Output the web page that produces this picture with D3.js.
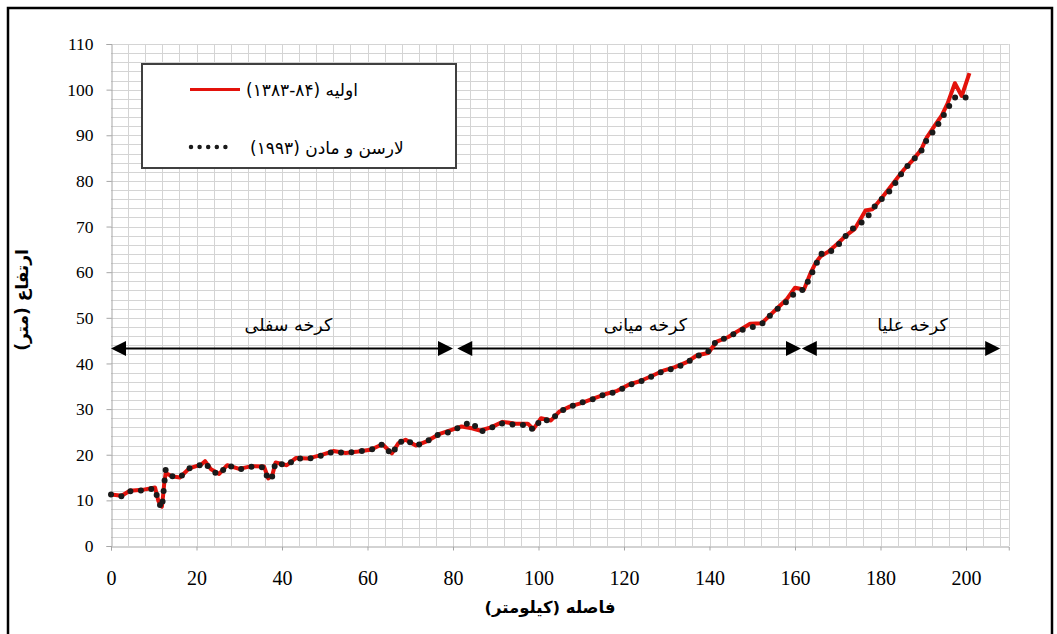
<!DOCTYPE html>
<html>
<head>
<meta charset="utf-8">
<script src="https://cdn.jsdelivr.net/npm/d3@7"></script>
<style>
  body { margin: 0; background: #fff; }
  svg { display: block; }
  .fa { font-family: "DejaVu Sans", "Noto Sans", sans-serif; direction: rtl; }
</style>
</head>
<body>
<svg width="1057" height="634"></svg>
<script>
// distance along the river (km)
const km = [0, 2.5, 4.4, 7.4, 10.3, 11.1, 11.9, 12.2, 12.5, 12.8, 14.2, 16.1, 18.3, 21.2, 22, 23.4, 25.3, 27.2,
  30, 32.9, 35.8, 36.8, 37.7, 38.5, 41.1, 43.3, 46.2, 49.1, 52, 54.9, 57.8, 60.7, 63.5, 65.7, 67.2, 68.9,
  71.3, 74, 76.7, 79.5, 82, 84.4, 86.3, 88.9, 91.6, 94.7, 97.5, 98.8, 100.6, 102.9, 104.8, 107.4, 110,
  112.8, 115.7, 118.4, 121.2, 123.7, 126.6, 129.4, 131.9, 134.7, 137.1, 139.7, 141.7, 144.4, 147, 149.5,
  152.2, 154.3, 156.1, 158, 160, 162.1, 163.5, 164.8, 166, 167.8, 170, 171.9, 174, 176.5, 178.1, 179.9,
  182, 183.8, 185.5, 187.5, 189.5, 190.8, 192.6, 194.3, 195.7, 197.4, 199, 200.8];

// initial profile (1383-84)
const initialElev = [11.3, 11.0, 12.1, 12.3, 12.8, 9.8, 8.6, 11.2, 14.2, 16.0, 15.3, 15.0, 17.0, 17.9, 18.6, 16.8, 15.8, 17.7,
  16.9, 17.5, 17.4, 14.8, 15.4, 18.3, 17.7, 19.3, 19.2, 19.9, 20.8, 20.4, 20.7, 21.1, 22.3, 20.3, 22.5, 23.3,
  22.0, 23.0, 24.5, 25.4, 26.2, 25.8, 25.3, 26.0, 27.2, 26.8, 26.8, 25.6, 28.0, 27.5, 29.4, 30.6, 31.3,
  32.3, 33.3, 34.0, 35.4, 36.1, 37.3, 38.5, 39.2, 40.3, 41.8, 42.3, 44.8, 45.8, 47.3, 48.7,
  48.8, 50.7, 52.3, 54.0, 56.6, 56.2, 59.5, 62.0, 63.5, 64.5, 66.3, 68.0, 69.5, 73.5, 73.8, 75.8,
  78.3, 80.5, 82.5, 84.5, 86.8, 89.5, 92.0, 94.3, 97.0, 101.4, 98.6, 103.6];

// Larsen & Madsen (1993)
const larsenElev = [11.3, 10.9, 12.0, 12.2, 12.6, 9.6, 8.3, 11.0, 14.0, 16.8, 15.3, 15.0, 17.0, 17.8, 18.3, 16.6, 15.6, 17.7,
  16.8, 17.4, 17.2, 14.4, 15.2, 18.3, 17.6, 19.2, 19.1, 19.8, 20.7, 20.4, 20.7, 21.0, 22.3, 20.0, 22.5, 23.4,
  21.9, 23.0, 24.5, 25.0, 26.3, 27.2, 25.0, 25.9, 26.9, 26.5, 26.5, 25.4, 27.8, 27.4, 29.4, 30.5, 31.4,
  32.2, 33.3, 33.8, 35.3, 36.0, 37.2, 38.4, 38.9, 40.2, 41.6, 42.6, 45.0, 45.7, 47.2, 47.8,
  48.6, 50.6, 52.1, 53.5, 55.5, 56.2, 58.9, 61.4, 64.0, 64.1, 65.8, 68.0, 70.0, 71.4, 73.8, 75.7,
  77.6, 80.0, 82.5, 84.4, 86.5, 89.0, 91.1, 93.6, 95.9, 98.3, null, 98.3];

const xTicks = [0, 20, 40, 60, 80, 100, 120, 140, 160, 180, 200];
const yTicks = [0, 10, 20, 30, 40, 50, 60, 70, 80, 90, 100, 110];

const seriesNames = ["اولیه (۸۴-۱۳۸۳)", "لارسن و مادن (۱۹۹۳)"];
const reachNames = ["کرخه سفلی", "کرخه میانی", "کرخه علیا"];
const reachFrom = [0, 81, 161.6];
const reachTo = [80, 161.4, 208];
const reachLabelKm = [41.5, 125, 187.5];

const svg = d3.select("svg");
const x = d3.scaleLinear().domain([0, 210]).range([111, 1008.75]);
const y = d3.scaleLinear().domain([0, 110]).range([546, 44]);

// outer frame
svg.append("rect")
  .attr("x", 8).attr("y", 8)
  .attr("width", 1044).attr("height", 640)
  .attr("fill", "none").attr("stroke", "#000").attr("stroke-width", 2.5);

// grid
const grid = svg.append("g").attr("stroke", "#d4d4d4").attr("stroke-width", 1);
grid.selectAll("line.h")
  .data(d3.range(2, 111, 2))
  .join("line")
  .attr("x1", x(0)).attr("x2", x(210))
  .attr("y1", d => Math.round(y(d)) + 0.5).attr("y2", d => Math.round(y(d)) + 0.5);
grid.selectAll("line.v")
  .data(d3.range(4, 209, 4).concat([210]))
  .join("line")
  .attr("y1", y(0)).attr("y2", y(110))
  .attr("x1", d => Math.round(x(d)) + 0.5).attr("x2", d => Math.round(x(d)) + 0.5);

// axes
const yAxis = svg.append("g")
  .attr("transform", `translate(${Math.round(x(0)) + 0.5},0)`)
  .call(d3.axisLeft(y).tickValues(yTicks).tickSize(5).tickPadding(13));
const xAxis = svg.append("g")
  .attr("transform", `translate(0,${Math.round(y(0)) + 0.5})`)
  .call(d3.axisBottom(x).tickValues(xTicks).tickSize(4).tickPadding(20));
[yAxis, xAxis].forEach(a => {
  a.selectAll("path, line").attr("stroke", "#a6a6a6");
  a.selectAll("text")
    .attr("fill", "#000")
    .style("font-family", "'Liberation Serif', 'Times New Roman', serif");
});
yAxis.selectAll("text").style("font-size", "17.5px");
xAxis.selectAll("text").style("font-size", "20px");

// reach arrows
const arrowY = y(43.3);
const arrows = svg.append("g");
reachNames.forEach((name, i) => {
  const x0 = x(reachFrom[i]), x1 = x(reachTo[i]);
  arrows.append("line")
    .attr("x1", x0 + 10).attr("x2", x1 - 10)
    .attr("y1", arrowY).attr("y2", arrowY)
    .attr("stroke", "#000").attr("stroke-width", 2);
  arrows.append("path")
    .attr("d", `M${x0},${arrowY} L${x0 + 15},${arrowY - 7.5} L${x0 + 15},${arrowY + 7.5} Z`);
  arrows.append("path")
    .attr("d", `M${x1},${arrowY} L${x1 - 15},${arrowY - 7.5} L${x1 - 15},${arrowY + 7.5} Z`);
  arrows.append("text")
    .attr("class", "fa")
    .attr("x", x(reachLabelKm[i]))
    .attr("y", arrowY - 17)
    .attr("text-anchor", "middle")
    .style("font-size", "17.5px")
    .text(name);
});

// series
const redPts = km.map((k, i) => [k, initialElev[i]]);
const dotPts = km.map((k, i) => [k, larsenElev[i]]).filter(d => d[1] != null);
const line = d3.line().x(d => x(d[0])).y(d => y(d[1]));

svg.append("path")
  .datum(redPts)
  .attr("d", line)
  .attr("fill", "none")
  .attr("stroke", "#e3120b")
  .attr("stroke-width", 4)
  .attr("stroke-linejoin", "round");

svg.append("path")
  .datum(dotPts)
  .attr("d", line)
  .attr("fill", "none")
  .attr("stroke", "#1a1a1a")
  .attr("stroke-width", 6)
  .attr("stroke-linecap", "round")
  .attr("stroke-dasharray", "0 10.5");

// legend
const lg = svg.append("g");
lg.append("rect")
  .attr("x", 142).attr("y", 64)
  .attr("width", 314).attr("height", 104)
  .attr("fill", "#fff").attr("stroke", "#404040").attr("stroke-width", 2);
lg.append("line")
  .attr("x1", 190).attr("x2", 240).attr("y1", 89.5).attr("y2", 89.5)
  .attr("stroke", "#e3120b").attr("stroke-width", 3);
lg.append("line")
  .attr("x1", 191).attr("x2", 234).attr("y1", 147).attr("y2", 147)
  .attr("stroke", "#1a1a1a").attr("stroke-width", 4.5)
  .attr("stroke-linecap", "round").attr("stroke-dasharray", "0 8.6");
lg.append("text").attr("class", "fa")
  .attr("x", 246).attr("y", 96)
  .attr("text-anchor", "end")
  .style("font-size", "17px")
  .text(seriesNames[0]);
lg.append("text").attr("class", "fa")
  .attr("x", 250).attr("y", 154)
  .attr("text-anchor", "end")
  .style("font-size", "17px")
  .text(seriesNames[1]);

// axis titles
svg.append("text").attr("class", "fa")
  .attr("x", 550).attr("y", 613)
  .attr("text-anchor", "middle")
  .style("font-size", "16.5px").style("font-weight", "bold")
  .text("فاصله (کیلومتر)");
svg.append("text").attr("class", "fa")
  .attr("transform", "translate(28,300) rotate(-90)")
  .attr("text-anchor", "middle")
  .style("font-size", "17px").style("font-weight", "bold")
  .text("ارتفاع (متر)");
</script>
</body>
</html>
